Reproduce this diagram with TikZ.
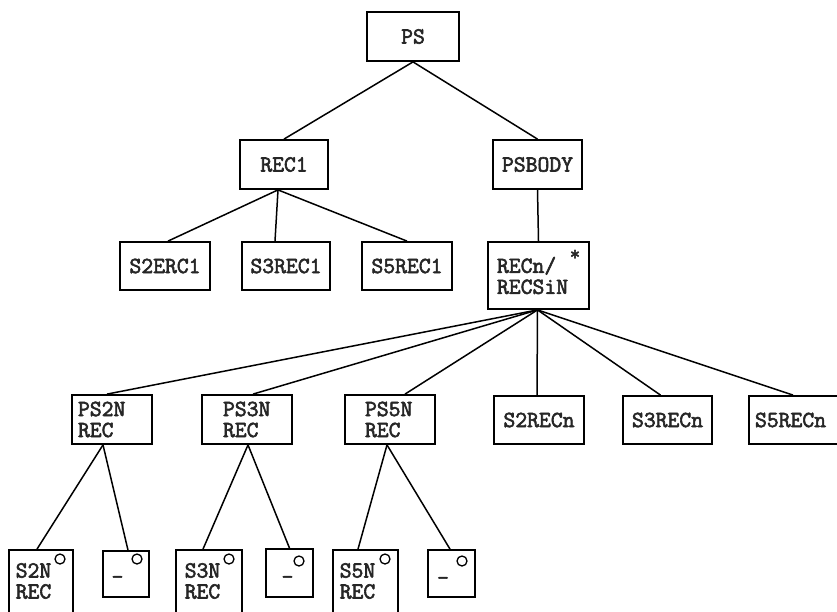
\documentclass[tikz,border=0pt]{standalone}
\usepackage{fontspec}
\newfontfamily\typewriter[FakeBold=2.6]{Latin Modern Mono}
\begin{document}
\begin{tikzpicture}[x=1pt,y=-1pt,
  box/.style={draw, line width=1.8pt, inner sep=0pt, text=black!85,
    font=\typewriter\fontsize{23}{21}\selectfont},
  twoline/.style={box, align=left},
  words/.style={inner sep=0pt, align=left, text=black!85,
    font=\typewriter\fontsize{23}{21}\selectfont},
  link/.style={line width=1.5pt},
  ring/.style={circle, draw, line width=1.3pt, minimum size=10pt, inner sep=0pt},
]
\useasboundingbox (0,0) rectangle (837,611);
\clip (0,0) rectangle (837,611);

% top levels
\node[box, minimum width=92pt, minimum height=49pt] (ps) at (413,36.5) {PS};
\node[box, minimum width=88pt, minimum height=49pt] (rec1) at (284,164.5) {REC1};
\node[box, minimum width=89pt, minimum height=49pt] (psbody) at (537.5,164.5) {PSBODY};

\node[box, minimum width=90pt, minimum height=48pt] (s2erc1) at (165,266) {S2ERC1};
\node[box, minimum width=88pt, minimum height=48pt] (s3rec1) at (286,266) {S3REC1};
\node[box, minimum width=90pt, minimum height=48pt] (s5rec1) at (407,266) {S5REC1};
\node[twoline, minimum height=67pt, text width=83pt, inner xsep=9pt] (recn) at (538.5,275.5) {RECn/\\RECSiN};
\node[words, font=\typewriter\fontsize{20}{20}\selectfont] (recnstar) at (575,255) {*};

% record level
\node[twoline, minimum height=49pt, text width=68pt, inner xsep=6pt] (ps2n) at (112,419.5) {PS2N\\REC};
\node[twoline, minimum height=49pt, text width=48pt, inner xsep=21pt] (ps3n) at (247,419.5) {PS3N\\REC};
\node[twoline, minimum height=49pt, text width=50pt, inner xsep=20pt] (ps5n) at (390,419.5) {PS5N\\REC};
\node[box, minimum width=90pt, minimum height=48pt] (s2recn) at (539,420) {S2RECn};
\node[box, minimum width=89pt, minimum height=48pt] (s3recn) at (667.5,420) {S3RECn};
\node[box, minimum width=101pt, minimum height=48pt, text width=89pt, inner xsep=6pt, align=left] (s5recn) at (799.5,420) {S5RECn};

% bottom level
\node[box, minimum width=64pt, minimum height=90pt] (s2n) at (41,595) {};
\node[words] (s2ntext) at (33.5,581) {S2N\\REC};
\node[ring] (s2nring) at (60,559) {};
\node[box, minimum width=46pt, minimum height=46pt] (dasha) at (126,574) {};
\node[words] (dashatext) at (117.5,580) {-};
\node[ring] (dasharing) at (137,559) {};

\node[box, minimum width=66pt, minimum height=90pt] (s3n) at (209,595) {};
\node[words] (s3ntext) at (202.5,581) {S3N\\REC};
\node[ring] (s3nring) at (229,559) {};
\node[box, minimum width=47pt, minimum height=48pt] (dashb) at (289.5,573) {};
\node[words] (dashbtext) at (287.5,580) {-};
\node[ring] (dashbring) at (299,561) {};

\node[box, minimum width=65pt, minimum height=90pt] (s5n) at (365.5,595) {};
\node[words] (s5ntext) at (357.5,581) {S5N\\REC};
\node[ring] (s5nring) at (385,559) {};
\node[box, minimum width=47pt, minimum height=47pt] (dashc) at (451.5,573.5) {};
\node[words] (dashctext) at (443,581) {-};
\node[ring] (dashcring) at (462,561) {};

% connectors
\draw[link] (ps.south) -- (rec1.north);
\draw[link] (ps.south) -- (psbody.north);
\draw[link] ([xshift=-6pt]rec1.south) -- ([xshift=3pt]s2erc1.north);
\draw[link] ([xshift=-6pt]rec1.south) -- ([xshift=-11pt]s3rec1.north);
\draw[link] ([xshift=-6pt]rec1.south) -- (s5rec1.north);
\draw[link] (psbody.south) -- (recn.north);
\draw[link] ([xshift=-1pt]recn.south) -- ([xshift=-5pt]ps2n.north);
\draw[link] ([xshift=-1pt]recn.south) -- ([xshift=6pt]ps3n.north);
\draw[link] ([xshift=-1pt]recn.south) -- ([xshift=15pt]ps5n.north);
\draw[link] ([xshift=-1pt]recn.south) -- ([xshift=-2pt]s2recn.north);
\draw[link] ([xshift=-1pt]recn.south) -- ([xshift=-7pt]s3recn.north);
\draw[link] ([xshift=-1pt]recn.south) -- ([xshift=-6.5pt]s5recn.north);
\draw[link] ([xshift=-9pt]ps2n.south) -- ([xshift=-4pt]s2n.north);
\draw[link] ([xshift=-9pt]ps2n.south) -- ([xshift=2pt]dasha.north);
\draw[link] ([xshift=1pt]ps3n.south) -- ([xshift=-6pt]s3n.north);
\draw[link] ([xshift=1pt]ps3n.south) -- (dashb.north);
\draw[link] ([xshift=-3pt]ps5n.south) -- ([xshift=-7.5pt]s5n.north);
\draw[link] ([xshift=-3pt]ps5n.south) -- ([xshift=-1.5pt]dashc.north);
\end{tikzpicture}
\end{document}
